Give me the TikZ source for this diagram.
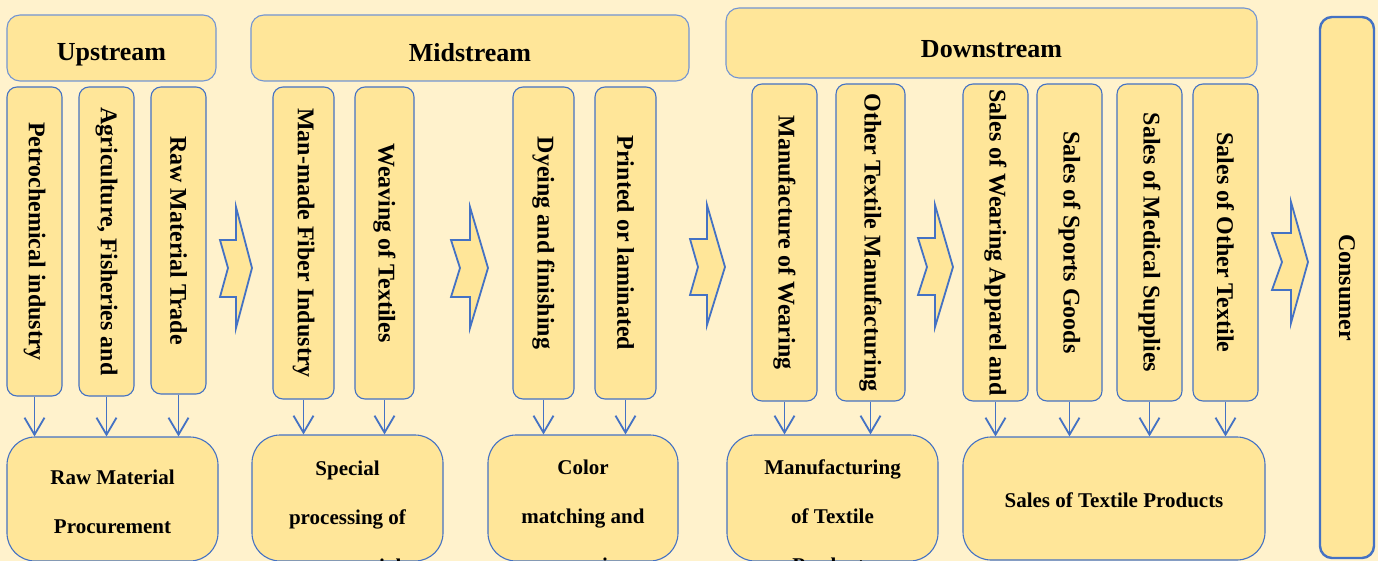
\documentclass[tikz,border=0pt]{standalone}
\usepackage{fontspec}
\setmainfont{Liberation Serif}
\usetikzlibrary{arrows.meta}
\definecolor{bgcream}{HTML}{FFF2CC}
\definecolor{boxgold}{HTML}{FFE699}
\definecolor{edgeblue}{HTML}{4472C4}

\begin{document}
\begin{tikzpicture}[x=1pt,y=-1pt,
  box/.style={draw=edgeblue, fill=boxgold, line width=1.1pt, inner sep=0pt, rectangle},
  headbox/.style={box, rounded corners=13pt, draw=edgeblue!75},
  colbox/.style={box, rounded corners=10pt},
  basebox/.style={box, rounded corners=28pt},
  endbox/.style={box, rounded corners=12pt, line width=2.4pt},
  headtext/.style={font=\fontsize{26}{30}\selectfont\bfseries, inner sep=0pt, anchor=base},
  coltext/.style={font=\fontsize{24}{28}\selectfont\bfseries, inner sep=0pt, rotate=-90},
  basetext/.style={font=\fontsize{21}{49}\selectfont\bfseries, inner sep=0pt, anchor=base},
  flow/.style={draw=edgeblue, line width=1.8pt, -{Straight Barb[length=17pt,width=20pt]}},
  chevron/.style={draw=edgeblue, fill=boxgold, line width=1.8pt, line join=miter},
]
\useasboundingbox (0,0) rectangle (1378,561);
\clip (0,0) rectangle (1378,561);
\fill[bgcream] (0,0) rectangle (1378,561);

% stage headers
\node[headbox, minimum width=209, minimum height=66] (up)   at (111.5,48) {};
\node[headbox, minimum width=438, minimum height=66] (mid)  at (470,48) {};
\node[headbox, minimum width=531, minimum height=70] (down) at (991.5,43) {};
\node[headtext] (upT)   at (111.5,61) {Upstream};
\node[headtext] (midT)  at (470,62)   {Midstream};
\node[headtext] (downT) at (991.5,58) {Downstream};

% upstream activities
\node[colbox, minimum width=55, minimum height=309] (petro)    at (34.5,241.5)  {};
\node[colbox, minimum width=55, minimum height=309] (agri)     at (106.5,241.5) {};
\node[colbox, minimum width=55, minimum height=307] (rawtrade) at (178.5,240.5) {};
% midstream activities
\node[colbox, minimum width=61, minimum height=312] (manmade)  at (303.5,243) {};
\node[colbox, minimum width=59, minimum height=312] (weaving)  at (384.5,243) {};
\node[colbox, minimum width=61, minimum height=312] (dyeing)   at (543.5,243) {};
\node[colbox, minimum width=61, minimum height=312] (printed)  at (625.5,243) {};
% downstream activities
\node[colbox, minimum width=65, minimum height=317] (mfgwear)   at (784.5,242.5)  {};
\node[colbox, minimum width=69, minimum height=317] (othermfg)  at (870.5,242.5)  {};
\node[colbox, minimum width=65, minimum height=317] (salewear)  at (995.5,242.5)  {};
\node[colbox, minimum width=65, minimum height=317] (sports)    at (1069.5,242.5) {};
\node[colbox, minimum width=65, minimum height=317] (medical)   at (1149.5,242.5) {};
\node[colbox, minimum width=65, minimum height=317] (othersale) at (1225.5,242.5) {};
% end of the chain
\node[endbox, minimum width=54, minimum height=541] (consumer) at (1347,287.5) {};

\node[coltext] (petroT)     at (petro)     {Petrochemical industry};
\node[coltext] (agriT)      at (agri)      {Agriculture, Fisheries and};
\node[coltext] (rawtradeT)  at (rawtrade)  {Raw Material Trade};
\node[coltext] (manmadeT)   at (manmade)   {Man-made Fiber Industry};
\node[coltext] (weavingT)   at (weaving)   {Weaving of Textiles};
\node[coltext] (dyeingT)    at (dyeing)    {Dyeing and finishing};
\node[coltext] (printedT)   at (printed)   {Printed or laminated};
\node[coltext] (mfgwearT)   at (mfgwear)   {Manufacture of Wearing};
\node[coltext] (othermfgT)  at (othermfg)  {Other Textile Manufacturing};
\node[coltext] (salewearT)  at (salewear)  {Sales of Wearing Apparel and};
\node[coltext] (sportsT)    at (sports)    {Sales of Sports Goods};
\node[coltext] (medicalT)   at (medical)   {Sales of Medical Supplies};
\node[coltext] (othersaleT) at (othersale) {Sales of Other Textile};
\node[coltext] (consumerT)  at (consumer)  {Consumer};

% summary boxes
\node[basebox, minimum width=211, minimum height=124] (rawproc)  at (112.5,499) {};
\node[basebox, minimum width=191, minimum height=126] (special)  at (347.5,498) {};
\node[basebox, minimum width=190, minimum height=126] (colormat) at (583,498)   {};
\node[basebox, minimum width=211, minimum height=126] (mfgtex)   at (832.5,498) {};
\node[basebox, minimum width=302, minimum height=123] (salestex) at (1114,498.5) {};

\node[basetext] (rawprocT)  at (112.5,484) {\parbox[t]{190pt}{\centering Raw Material\\Procurement}};
\node[basetext] (specialT)  at (347.5,475) {\parbox[t]{180pt}{\centering Special\\processing of\\raw materials}};
\node[basetext] (colormatT) at (583,474)   {\parbox[t]{180pt}{\centering Color\\matching and\\processing}};
\node[basetext] (mfgtexT)   at (832.5,474) {\parbox[t]{190pt}{\centering Manufacturing\\of Textile\\Products}};
\node[basetext] (salestexT) at (1114,507)  {Sales of Textile Products};

% activity to summary arrows
\foreach \a/\b in {petro/rawproc, agri/rawproc, rawtrade/rawproc,
                   manmade/special, weaving/special,
                   dyeing/colormat, printed/colormat,
                   mfgwear/mfgtex, othermfg/mfgtex,
                   salewear/salestex, sports/salestex, medical/salestex, othersale/salestex}
  \draw[flow] (\a.south) -- (\a.south |- \b.north);

% notched arrows between stages
\draw[chevron] (220,240) -- (236,240) -- (236,207) -- (252,268) -- (236,328) -- (236,297) -- (220,297) -- (228,268) -- cycle;
\draw[chevron] (451,240) -- (470,240) -- (470,207) -- (488,268) -- (470,328) -- (470,297) -- (451,297) -- (460,268) -- cycle;
\draw[chevron] (690,239) -- (707,239) -- (707,205) -- (725,267) -- (707,325) -- (707,295) -- (690,295) -- (698,267) -- cycle;
\draw[chevron] (918,238) -- (935,238) -- (935,205) -- (953,267) -- (935,327) -- (935,295) -- (918,295) -- (927,267) -- cycle;
\draw[chevron] (1272,233) -- (1291,233) -- (1291,202) -- (1308,262) -- (1291,323) -- (1291,290) -- (1272,290) -- (1282,262) -- cycle;
\end{tikzpicture}
\end{document}
